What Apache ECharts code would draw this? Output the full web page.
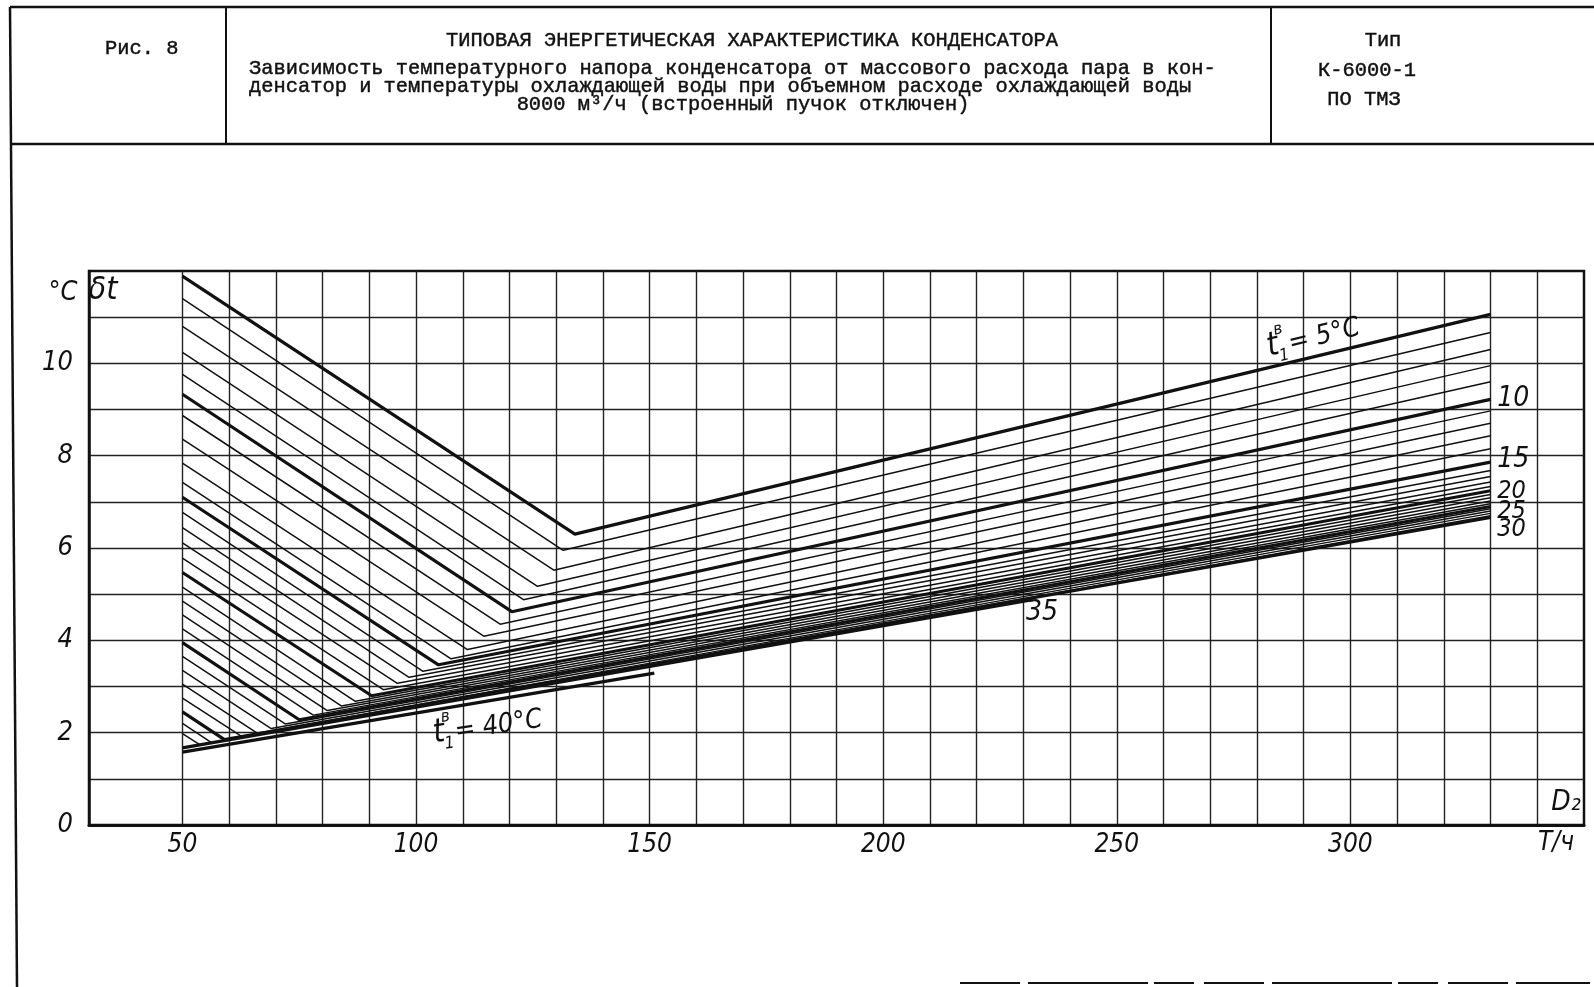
<!DOCTYPE html>
<html><head><meta charset="utf-8">
<script src="https://cdn.jsdelivr.net/npm/echarts@6/dist/echarts.min.js"></script>
<style>html,body{margin:0;padding:0;background:#fff}#c{width:1594px;height:987px}</style>
</head><body><div id="c"></div>
<script>
// ---------------- DATA ----------------
// cooling-water temperature t1 (°C) for each curve
const lineTemps = [5,6,7,8,9,10,11,12,13,14,15,16,17,18,19,20,21,22,23,24,25,26,27,28,29,30,31,32,35,40];
// δt at D2 = 50 t/h
const startVal  = [11.89,11.40,10.80,10.24,9.76,9.33,8.87,8.36,7.84,7.42,7.10,6.77,6.44,6.11,5.78,5.47,5.15,4.85,4.55,4.25,3.95,3.65,3.35,3.05,2.75,2.45,2.20,1.98,1.67,1.58];
// knee (break) point of each curve: D2 and δt
const kneeD     = [134,131.5,129.5,126,123,120.5,118,114.5,111,107.5,104.8,101.5,98.5,96,93,90.5,87,84,81,78,75,72,69,66,63,59,56.3,53.7,232,151];
const kneeVal   = [6.30,5.95,5.52,5.17,4.88,4.62,4.35,4.09,3.80,3.60,3.47,3.33,3.20,3.07,2.93,2.80,2.68,2.58,2.48,2.38,2.28,2.19,2.09,1.99,1.90,1.85,1.78,1.74,4.88,3.29];
// δt at D2 = 330 t/h (null: curve ends at the knee)
const endVal    = [11.06,10.67,10.30,9.95,9.60,9.22,8.97,8.70,8.43,8.15,7.86,7.68,7.55,7.43,7.33,7.24,7.16,7.09,7.02,6.96,6.90,6.85,6.80,6.75,6.70,6.66,null,null,null,null];
const firstLoad = 50;
const lastLoad  = 330;
const thickTemps = [5,10,15,20,25,30,35,40];
const xLabelTicks = [50,100,150,200,250,300];
const yLabelTicks = [0,2,4,6,8,10];
const rightLabels = ['10','15','20','25','30'];

// ---------------- STYLE / LAYOUT ----------------
const INK = '#111';
const FONT_MONO = "'Liberation Mono','DejaVu Sans Mono',monospace";
const FONT_HAND = "'DejaVu Sans Condensed','Liberation Sans',sans-serif";
const rightLabelAt = [9.23, 7.91, 7.23, 6.80, 6.41];   // δt where each end label sits
const rightLabelSize = [28, 28, 25, 25, 25];

const vColors = ['rgba(0,0,0,0)'];
for (let i = 0; i < 40; i++) vColors.push('#222');

const series = lineTemps.map((t, i) => {
  const pts = [[firstLoad, startVal[i]], [kneeD[i], kneeVal[i]]];
  if (endVal[i] !== null) pts.push([lastLoad, endVal[i]]);
  const thick = thickTemps.includes(t);
  return {
    type: 'line', name: String(t), data: pts, symbol: 'none', silent: true,
    z: thick ? 4 : 3,
    lineStyle: { color: INK, width: thick ? 3.2 : 1.5 }
  };
});

const option = {
  animation: false,
  backgroundColor: '#fff',
  grid: { left: 89, right: 10, top: 271, bottom: 162, show: true, borderColor: INK, borderWidth: 2.5 },
  xAxis: {
    type: 'value', min: 30, max: 350, interval: 10,
    axisLine: { show: true, onZero: false, lineStyle: { color: INK, width: 3 } },
    axisTick: { show: false },
    axisLabel: {
      formatter: v => xLabelTicks.includes(v) ? String(v) : '',
      color: INK, fontStyle: 'italic', fontFamily: FONT_HAND, fontSize: 26, margin: 7
    },
    splitLine: { show: true, showMinLine: false, showMaxLine: false, lineStyle: { color: vColors, width: 1.4 } }
  },
  yAxis: {
    type: 'value', min: 0, max: 12, interval: 1,
    axisLine: { show: true, onZero: false, lineStyle: { color: INK, width: 2.5 } },
    axisTick: { show: false },
    axisLabel: {
      formatter: v => yLabelTicks.includes(v) ? String(v) : '',
      color: INK, fontStyle: 'italic', fontFamily: FONT_HAND, fontSize: 27, margin: 16
    },
    splitLine: { show: true, showMinLine: false, showMaxLine: false, lineStyle: { color: '#222', width: 1.4 } }
  },
  series
};

const chart = echarts.init(document.getElementById('c'), null, { renderer: 'canvas' });
chart.setOption(option);
const px = (d, v) => chart.convertToPixel({ gridIndex: 0 }, [d, v]);

function txt(x, y, text, font, align, vAlign, extra) {
  return Object.assign({
    type: 'text', x, y, z: 20,
    style: { text, font, fill: INK, textAlign: align || 'left', align: align || 'left',
             textVerticalAlign: vAlign || 'middle', verticalAlign: vAlign || 'middle' }
  }, extra || {});
}
function mtxt(x, y, text, align) {
  const el = txt(x, y, text, 'normal 20.4px ' + FONT_MONO, align);
  el.style.stroke = INK; el.style.lineWidth = 0.45;
  return el;
}
function line(x1, y1, x2, y2, w, dash) {
  return { type: 'line', z: 20, shape: { x1, y1, x2, y2 },
           style: { stroke: INK, lineWidth: w || 2, lineDash: dash || null } };
}
function tempLabel(anchor, rot, valueText) {
  const hand = s => 'italic ' + s + 'px ' + FONT_HAND;
  return {
    type: 'group', x: anchor[0], y: anchor[1], rotation: rot, z: 20,
    children: [
      txt(0, 0, 't', hand(33), 'left', 'bottom'),
      txt(10, -23, 'в', hand(17), 'left', 'bottom'),
      txt(10, 4, '1', hand(17), 'left', 'bottom'),
      txt(22, -1, valueText, hand(27), 'left', 'bottom')
    ]
  };
}

const hand28 = 'italic 28px ' + FONT_HAND;
const graphics = [
  // frame & header
  line(10, 7, 1594, 7, 2.5),
  line(10, 144, 1594, 144, 2.5),
  line(10, 7, 17, 987, 2.5),
  line(226, 7, 226, 144, 2),
  line(1271, 7, 1271, 144, 2),
  line(960, 983, 1590, 983, 2, [60, 8, 120, 6, 40, 10]),
  mtxt(105, 49, 'Рис. 8'),
  mtxt(752, 41, 'ТИПОВАЯ ЭНЕРГЕТИЧЕСКАЯ ХАРАКТЕРИСТИКА КОНДЕНСАТОРА', 'center'),
  mtxt(249, 69, 'Зависимость температурного напора конденсатора от массового расхода пара в кон-'),
  mtxt(249, 87, 'денсатор и температуры охлаждающей воды при объемном расходе охлаждающей воды'),
  mtxt(743, 105, '8000 м³/ч (встроенный пучок отключен)', 'center'),
  mtxt(1383, 41, 'Тип', 'center'),
  mtxt(1367, 71, 'К-6000-1', 'center'),
  mtxt(1364, 100, 'ПО ТМЗ', 'center'),
  // axis captions
  txt(63, 293, '°C', 'italic 27px ' + FONT_HAND, 'center'),
  txt(103, 291, 'δt', 'italic 32px ' + FONT_HAND, 'center'),
  txt(1566, 803, 'D₂', 'italic 28px ' + FONT_HAND, 'center'),
  txt(1556, 843, 'T/ч', 'italic 26px ' + FONT_HAND, 'center')
];
// curve labels
const a5 = px(283, 9.95);
graphics.push(tempLabel([a5[0], a5[1] - 2], 0.235, '= 5°C'));
const a40 = px(104.2, 1.62);
graphics.push(tempLabel([a40[0], a40[1]], 0.15, '= 40°C'));
rightLabels.forEach((s, i) => {
  const p = px(lastLoad + 1, rightLabelAt[i]);
  graphics.push(txt(p[0] + 2, p[1], s, 'italic ' + rightLabelSize[i] + 'px ' + FONT_HAND, 'left'));
});
const p35 = px(234, 4.6);
graphics.push(txt(p35[0], p35[1], '35', hand28, 'center'));

chart.setOption({ graphic: graphics });
</script>
</body></html>
